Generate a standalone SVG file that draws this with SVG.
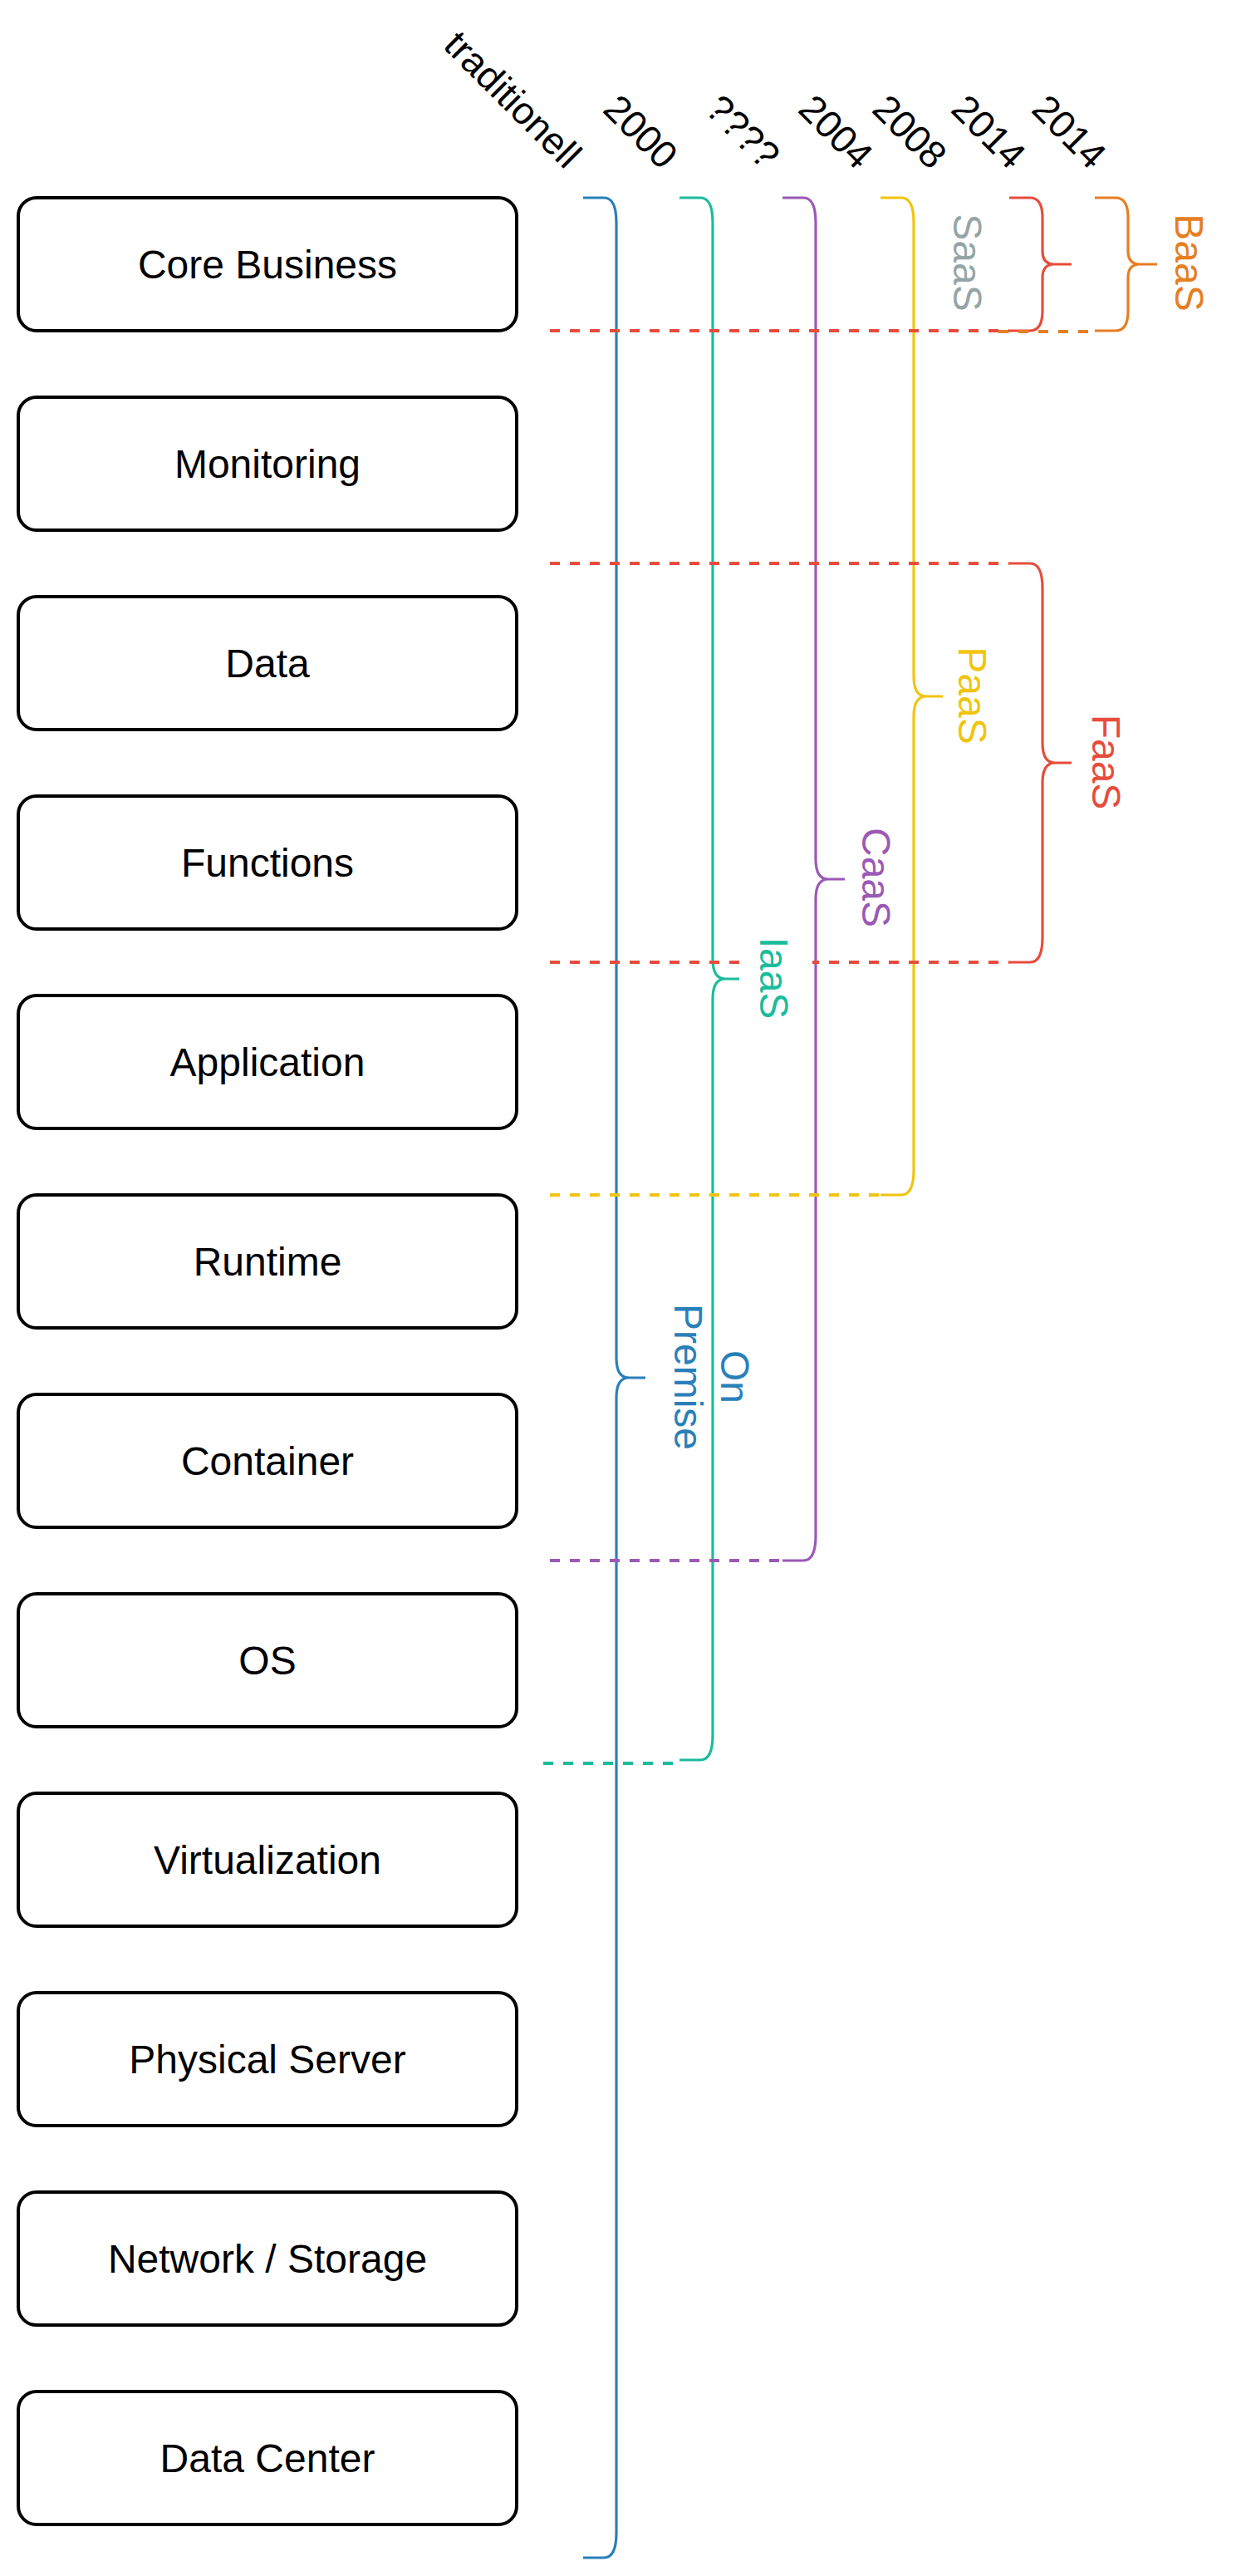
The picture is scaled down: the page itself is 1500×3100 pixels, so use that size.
<svg xmlns="http://www.w3.org/2000/svg" width="1500" height="3100" viewBox="0 0 1500 3100">
<style>
.box{fill:#fff;stroke:#000;stroke-width:4}
.lbl{font-family:"Liberation Sans",Arial,Helvetica,sans-serif;font-size:48px;text-anchor:middle}
.hdr{font-family:"Liberation Sans",Arial,Helvetica,sans-serif;font-size:46px;text-anchor:middle;fill:#000}
.br{fill:none;stroke-width:3.2;stroke-linecap:butt;stroke-linejoin:round}
.dash{fill:none;stroke-width:4;stroke-dasharray:12 12}
</style>
<rect width="1500" height="3100" fill="#fff"/>

<g id="headers">
  <g id="h-traditionell"><text class="hdr" transform="translate(618,119) rotate(45)" y="16.6">traditionell</text></g>
  <g id="h-2000"><text class="hdr" transform="translate(772,158) rotate(45)" y="16.6">2000</text></g>
  <g id="h-unknown"><text class="hdr" transform="translate(895,158) rotate(45)" y="16.6">????</text></g>
  <g id="h-2004"><text class="hdr" transform="translate(1007,158) rotate(45)" y="16.6">2004</text></g>
  <g id="h-2008"><text class="hdr" transform="translate(1096,158) rotate(45)" y="16.6">2008</text></g>
  <g id="h-2014a"><text class="hdr" transform="translate(1191,158) rotate(45)" y="16.6">2014</text></g>
  <g id="h-2014b"><text class="hdr" transform="translate(1288,158) rotate(45)" y="16.6">2014</text></g>
</g>

<g id="layers">
  <g id="n-core-business"><rect class="box" x="22" y="238" width="600" height="160" rx="22"/><text class="lbl" x="322" y="335">Core Business</text></g>
  <g id="n-monitoring"><rect class="box" x="22" y="478" width="600" height="160" rx="22"/><text class="lbl" x="322" y="575">Monitoring</text></g>
  <g id="n-data"><rect class="box" x="22" y="718" width="600" height="160" rx="22"/><text class="lbl" x="322" y="815">Data</text></g>
  <g id="n-functions"><rect class="box" x="22" y="958" width="600" height="160" rx="22"/><text class="lbl" x="322" y="1055">Functions</text></g>
  <g id="n-application"><rect class="box" x="22" y="1198" width="600" height="160" rx="22"/><text class="lbl" x="322" y="1295">Application</text></g>
  <g id="n-runtime"><rect class="box" x="22" y="1438" width="600" height="160" rx="22"/><text class="lbl" x="322" y="1535">Runtime</text></g>
  <g id="n-container"><rect class="box" x="22" y="1678" width="600" height="160" rx="22"/><text class="lbl" x="322" y="1775">Container</text></g>
  <g id="n-os"><rect class="box" x="22" y="1918" width="600" height="160" rx="22"/><text class="lbl" x="322" y="2015">OS</text></g>
  <g id="n-virtualization"><rect class="box" x="22" y="2158" width="600" height="160" rx="22"/><text class="lbl" x="322" y="2255">Virtualization</text></g>
  <g id="n-physical-server"><rect class="box" x="22" y="2398" width="600" height="160" rx="22"/><text class="lbl" x="322" y="2495">Physical Server</text></g>
  <g id="n-network-storage"><rect class="box" x="22" y="2638" width="600" height="160" rx="22"/><text class="lbl" x="322" y="2735">Network / Storage</text></g>
  <g id="n-data-center"><rect class="box" x="22" y="2878" width="600" height="160" rx="22"/><text class="lbl" x="322" y="2975">Data Center</text></g>
</g>

<g id="brackets">
  <g id="b-onpremise">
    <path class="br" stroke="#2980B9" d="M702,238 H727 Q742,238 742,268 V1634 Q742,1658 757,1658 H777 M702,3078 H727 Q742,3078 742,3048 V1682 Q742,1658 757,1658"/>
    <text class="lbl" fill="#2980B9" transform="translate(868,1657) rotate(90)"><tspan x="0" y="0">On</tspan><tspan x="0" y="56">Premise</tspan></text>
  </g>
  <g id="b-iaas">
    <path class="br" stroke="#1ABC9C" d="M818,238 H843 Q858,238 858,268 V1154 Q858,1178 873,1178 H893 M818,2118 H843 Q858,2118 858,2088 V1202 Q858,1178 873,1178"/>
  </g>
  <g id="b-caas">
    <path class="br" stroke="#9B59B6" d="M942,238 H967 Q982,238 982,268 V1034 Q982,1058 997,1058 H1017 M942,1878 H967 Q982,1878 982,1848 V1082 Q982,1058 997,1058"/>
    <text class="lbl" fill="#9B59B6" transform="translate(1055,1056) rotate(90)" y="17.2">CaaS</text>
  </g>
  <g id="b-paas">
    <path class="br" stroke="#F1C40F" d="M1060,238 H1085 Q1100,238 1100,268 V814 Q1100,838 1115,838 H1135 M1060,1438 H1085 Q1100,1438 1100,1408 V862 Q1100,838 1115,838"/>
    <text class="lbl" fill="#F1C40F" transform="translate(1171,837) rotate(90)" y="17.2">PaaS</text>
  </g>
  <g id="b-saas">
    <path class="br" stroke="#E74C3C" d="M1215,238 H1240 Q1255,238 1255,262 V302 Q1255,318 1269,318 H1290 M1215,398 H1240 Q1255,398 1255,374 V334 Q1255,318 1269,318"/>
    <text class="lbl" fill="#95A5A6" transform="translate(1165,316) rotate(90)" y="17.2">SaaS</text>
  </g>
  <g id="b-baas">
    <path class="br" stroke="#E67E22" d="M1318,238 H1343 Q1358,238 1358,262 V302 Q1358,318 1372,318 H1393 M1318,398 H1343 Q1358,398 1358,374 V334 Q1358,318 1372,318"/>
    <text class="lbl" fill="#E67E22" transform="translate(1432,316) rotate(90)" y="17.2">BaaS</text>
  </g>
  <g id="b-faas">
    <path class="br" stroke="#E74C3C" d="M1215,678 H1240 Q1255,678 1255,708 V894 Q1255,918 1270,918 H1290 M1215,1158 H1240 Q1255,1158 1255,1128 V942 Q1255,918 1270,918"/>
    <text class="lbl" fill="#E74C3C" transform="translate(1332,917) rotate(90)" y="17.2">FaaS</text>
  </g>
</g>

<g id="connectors">
  <line class="dash" stroke="#E74C3C" x1="662" y1="398" x2="1215" y2="398"/>
  <line class="dash" stroke="#E67E22" x1="1202" y1="399" x2="1318" y2="399"/>
  <line class="dash" stroke="#E74C3C" x1="662" y1="678" x2="1215" y2="678"/>
  <line class="dash" stroke="#E74C3C" x1="662" y1="1158" x2="1215" y2="1158"/>
  <line class="dash" stroke="#F1C40F" x1="662" y1="1438" x2="1060" y2="1438"/>
  <line class="dash" stroke="#9B59B6" x1="662" y1="1878" x2="942" y2="1878"/>
  <line class="dash" stroke="#1ABC9C" x1="654" y1="2122" x2="818" y2="2122"/>
</g>

<g id="iaas-label">
  <rect x="890" y="1122" width="88" height="110" fill="#fff"/>
  <text class="lbl" fill="#1ABC9C" transform="translate(932,1177) rotate(90)" y="17.2">IaaS</text>
</g>
</svg>
